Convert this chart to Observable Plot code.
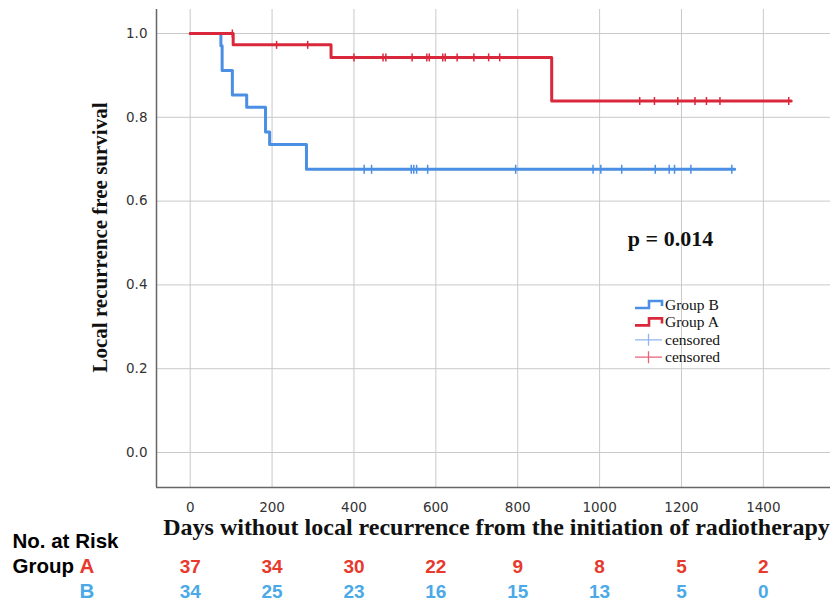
<!DOCTYPE html>
<html><head><meta charset="utf-8">
<script src="https://cdn.jsdelivr.net/npm/d3@7"></script>
<script src="https://cdn.jsdelivr.net/npm/@observablehq/plot@0.6"></script>
<style>
body{margin:0;background:#fff;}
#wrap{position:relative;width:830px;height:604px;background:#fff;overflow:hidden;}
#wrap > *{position:absolute;left:0;}
</style></head><body><div id="wrap"></div>
<script>
// ---- data ----
const groupATimes = [0, 105, 344, 883, 1468];
const groupASurv  = [1, 0.973, 0.943, 0.839, 0.839];
const groupBTimes = [0, 75, 78, 103, 138, 184, 194, 284, 1330];
const groupBSurv  = [1, 0.971, 0.912, 0.853, 0.824, 0.765, 0.735, 0.676, 0.676];
const censorATimes = [103, 211, 287, 400, 471, 478, 542, 578, 584, 617, 623, 652, 693, 729, 756,
                      1098, 1134, 1191, 1233, 1261, 1294, 1462];
const censorBTimes = [425, 443, 540, 546, 553, 580, 795, 984, 1003, 1054, 1136, 1170, 1183, 1223, 1323];
const riskTimes = [0, 200, 400, 600, 800, 1000, 1200, 1400];
const riskA = [37, 34, 30, 22, 9, 8, 5, 2];
const riskB = [34, 25, 23, 16, 15, 13, 5, 0];
const xTicks = [0, 200, 400, 600, 800, 1000, 1200, 1400];
const yTicks = [0, 0.2, 0.4, 0.6, 0.8, 1.0];
const groupNames = ["Group B", "Group A"];
const yTitle = "Local recurrence free survival";
const xTitle = "Days without local recurrence from the initiation of radiotherapy";
const pText = "p = 0.014";

// ---- styling ----
const RED = "#d9283b", BLUE = "#4a8fe3";
const RRED = "#e8392d", RBLUE = "#4ba9e8";
const xDomain = [-82.3, 1564];
const yDomain = [-0.0835, 1.0573];

function stepAt(times, surv, t) {
  let v = surv[0];
  for (let i = 0; i < times.length; i++) if (times[i] <= t) v = surv[i];
  return v;
}
const seriesA = groupATimes.map((t, i) => ({t, s: groupASurv[i]}));
const seriesB = groupBTimes.map((t, i) => ({t, s: groupBSurv[i]}));
const censA = censorATimes.map(t => ({t, s: stepAt(groupATimes, groupASurv, t)}));
const censB = censorBTimes.map(t => ({t, s: stepAt(groupBTimes, groupBSurv, t)}));

const vtick = {draw(ctx, size) { const r = Math.sqrt(size / Math.PI); ctx.moveTo(0, -r); ctx.lineTo(0, r); }};

const serif = "'Liberation Serif', 'Times New Roman', serif";
const sans = "'Liberation Sans', Arial, sans-serif";

const main = Plot.plot({
  width: 830, height: 545,
  marginLeft: 156, marginRight: 0, marginTop: 9, marginBottom: 58,
  style: {fontFamily: "'DejaVu Sans', sans-serif", fontSize: "13.5px", color: "#333", background: "transparent"},
  x: {domain: xDomain},
  y: {domain: yDomain},
  marks: [
    Plot.gridX(xTicks, {stroke: "#c9c9c9", strokeOpacity: 1}),
    Plot.gridY(yTicks, {stroke: "#c9c9c9", strokeOpacity: 1}),
    Plot.axisX(xTicks, {tickSize: 0, tickPadding: 15, label: null, tickFormat: d3.format("d"), fill: "#333"}),
    Plot.axisY(yTicks, {tickSize: 0, tickPadding: 9, label: null, tickFormat: d3.format(".1f"), fill: "#333"}),
    Plot.ruleX([xDomain[0]], {stroke: "#666", strokeWidth: 1.5}),
    Plot.ruleY([yDomain[0]], {stroke: "#666", strokeWidth: 1.5}),
    Plot.line(seriesB, {x: "t", y: "s", curve: "step-after", stroke: BLUE, strokeWidth: 3}),
    Plot.dot(censB, {x: "t", y: "s", symbol: vtick, r: 4.5, fill: "none", stroke: BLUE, strokeWidth: 1.5}),
    Plot.line(seriesA, {x: "t", y: "s", curve: "step-after", stroke: RED, strokeWidth: 3}),
    Plot.dot(censA, {x: "t", y: "s", symbol: vtick, r: 4, fill: "none", stroke: RED, strokeWidth: 1.5}),
    Plot.text([yTitle], {text: d => d, frameAnchor: "left", rotate: -90, dx: -56, dy: -11,
      textAnchor: "middle", lineAnchor: "middle",
      fontFamily: serif, fontWeight: "bold", fontSize: 21, fill: "#111"}),
    Plot.text([xTitle], {text: d => d, frameAnchor: "bottom", dx: 3, dy: 40,
      textAnchor: "middle", lineAnchor: "middle",
      fontFamily: serif, fontWeight: "bold", fontSize: 24, fill: "#111"}),
    Plot.text([pText], {text: d => d, frameAnchor: "top-left", dx: 514, dy: 229,
      textAnchor: "middle", lineAnchor: "middle",
      fontFamily: serif, fontWeight: "bold", fontSize: 22, fill: "#111"})
  ]
});
main.style.top = "0px";

const riskRows = [];
riskTimes.forEach((t, i) => {
  riskRows.push({t, g: "A", n: riskA[i]});
  riskRows.push({t, g: "B", n: riskB[i]});
});

const risk = Plot.plot({
  width: 830, height: 76,
  marginLeft: 156, marginRight: 0, marginTop: 0, marginBottom: 0,
  style: {fontFamily: sans, background: "transparent"},
  x: {domain: xDomain, axis: null},
  y: {type: "point", domain: ["A", "B"], range: [38, 63], padding: 0, axis: null},
  color: {domain: ["A", "B"], range: [RRED, RBLUE]},
  marks: [
    Plot.text(riskRows, {x: "t", y: "g", text: "n", fill: "g", fontSize: 19, fontWeight: "bold", lineAnchor: "middle"}),
    Plot.text(["No. at Risk"], {text: d => d, frameAnchor: "top-left", dx: -144, dy: 13, textAnchor: "start",
      lineAnchor: "middle", fontSize: 20.5, fontWeight: "bold", fill: "#000"}),
    Plot.text(["Group"], {text: d => d, x: () => xDomain[0], y: () => "A", dx: -144, textAnchor: "start",
      lineAnchor: "middle", fontSize: 20.5, fontWeight: "bold", fill: "#000"}),
    Plot.text(["A", "B"], {text: d => d, y: d => d, x: () => xDomain[0], dx: -77, textAnchor: "start",
      lineAnchor: "middle", fill: d => d, fontSize: 20.5, fontWeight: "bold"})
  ]
});
risk.style.top = "528px";

// legend
const leg = d3.create("svg").attr("width", 110).attr("height", 72)
  .style("top", "292px").style("left", "630px");
const legItems = [
  {label: groupNames[0], color: BLUE, kind: "step"},
  {label: groupNames[1], color: RED, kind: "step"},
  {label: "censored", color: "#8fb6ee", kind: "cens"},
  {label: "censored", color: "#e8637a", kind: "cens"}
];
legItems.forEach((d, i) => {
  const cy = 13 + i * 17.4;
  const g = leg.append("g");
  if (d.kind === "step") {
    g.append("path").attr("d", `M5,${cy + 3}H19V${cy - 4}H32V${cy + 1}`)
      .attr("fill", "none").attr("stroke", d.color).attr("stroke-width", 2.6);
  } else {
    g.append("path").attr("d", `M5,${cy}H32M18.5,${cy - 6}V${cy + 6}`)
      .attr("fill", "none").attr("stroke", d.color).attr("stroke-width", 1.3);
  }
  g.append("text").attr("x", 35).attr("y", cy + 5).text(d.label)
    .attr("font-family", serif).attr("font-size", 15.5).attr("fill", "#111");
});

const wrap = document.getElementById("wrap");
wrap.append(main, risk, leg.node());
</script></body></html>
